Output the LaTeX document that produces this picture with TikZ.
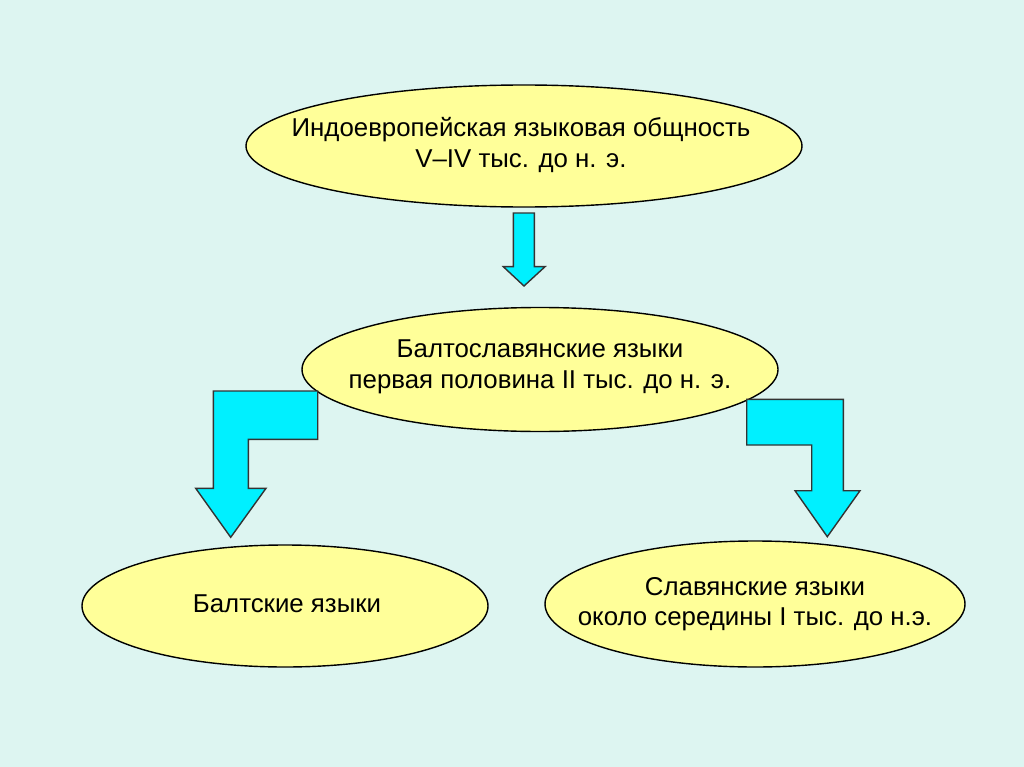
\documentclass[tikz,border=0pt]{standalone}
\usepackage{fontspec}
\setmainfont{Liberation Sans}
\definecolor{bg}{RGB}{221,245,241}
\definecolor{ellfill}{RGB}{255,255,153}
\definecolor{arrfill}{RGB}{0,240,255}
\begin{document}
\begin{tikzpicture}[x=0.02cm,y=-0.02cm,
  oval/.style={draw=black,line width=0.8pt,fill=ellfill},
  lbl/.style={align=center,font=\fontsize{14.7}{17.4}\selectfont,inner sep=0pt},
  bigarrow/.style={draw=black!80,line width=0.8pt,fill=arrfill,line join=miter}]
\fill[bg] (0,0) rectangle (1024,767);
\useasboundingbox (0,0) rectangle (1024,767);
% ellipses
\draw[oval] (524,146) ellipse [x radius=278,y radius=61];
\node[lbl] (top) at (521,145) {Индоевропейская языковая общность\\V–IV тыс. до н. э.};
\draw[oval] (540,369.5) ellipse [x radius=238,y radius=62];
\node[lbl] (mid) at (540,367) {Балтославянские языки\\первая половина II тыс. до н. э.};
\draw[oval] (285,606) ellipse [x radius=203,y radius=61];
\node[lbl] (balt) at (287,604) {Балтские языки};
\draw[oval] (755,604) ellipse [x radius=210,y radius=63];
\node[lbl] (slav) at (755,604) {Славянские языки\\около середины I тыс. до н.э.};
% arrows
\draw[bigarrow] (513.3,213) -- (534.3,213) -- (534.3,266.7) -- (545,266.7) -- (524,286)
  -- (503.3,266.7) -- (513.3,266.7) -- cycle;
\draw[bigarrow] (213.3,391) -- (317.7,391) -- (317.7,439.3) -- (248.3,439.3) -- (248.3,488.3)
  -- (266,488.3) -- (230.7,537.3) -- (195.7,488.3) -- (213.3,488.3) -- cycle;
\draw[bigarrow] (746.7,399.3) -- (843.3,399.3) -- (843.3,490.7) -- (860,490.7) -- (827.3,536.7)
  -- (795,490.7) -- (811.7,490.7) -- (811.7,445) -- (746.7,445) -- cycle;
\end{tikzpicture}
\end{document}
